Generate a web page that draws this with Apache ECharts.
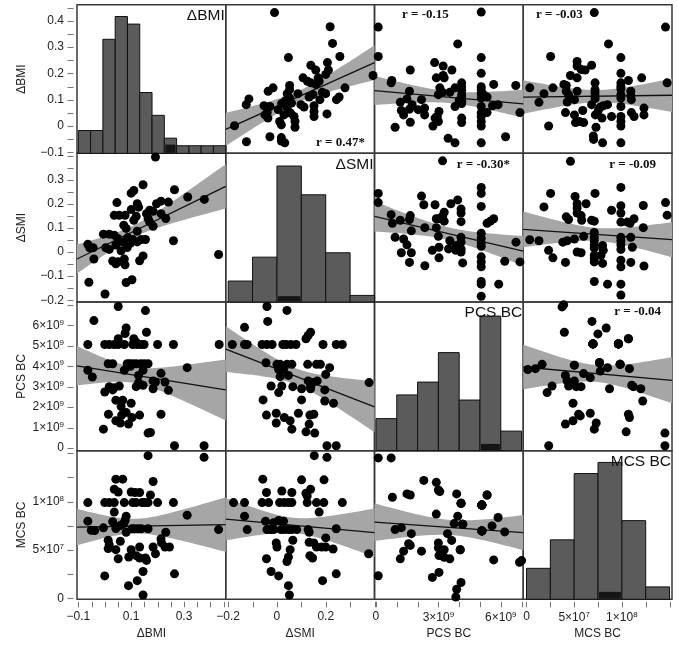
<!DOCTYPE html>
<html><head><meta charset="utf-8">
<script src="https://cdn.jsdelivr.net/npm/echarts@6/dist/echarts.min.js"></script>
<style>html,body{margin:0;padding:0;background:#fff}#c{width:677px;height:647px}</style>
</head><body><div id="c"></div>
<script>
// ---------------- DATA ----------------
const varNames = ['ΔBMI', 'ΔSMI', 'PCS BC', 'MCS BC'];
// units for stored values: PCS in 1e9, MCS in 1e7
const unitScale = [1, 1, 1e9, 1e7];

// [ΔBMI, ΔSMI]
const bmi_smi = [[0.192,0.394],[0.145,0.279],[0.110,0.255],[0.100,0.244],[0.264,0.258],[0.314,0.228],[0.377,0.218],[0.046,0.205],[0.123,0.200],[0.128,0.186],[0.196,0.200],[0.213,0.211],[0.241,0.207],[0.100,0.176],[0.170,0.173],[0.183,0.169],[0.036,0.152],[0.055,0.152],[0.077,0.152],[0.119,0.148],[0.158,0.159],[0.213,0.159],[0.231,0.139],[0.110,0.132],[0.164,0.139],[0.170,0.125],[0.072,0.111],[0.081,0.098],[0.183,0.107],[0.123,0.086],[-0.005,0.074],[0.017,0.074],[0.036,0.070],[0.049,0.056],[0.087,0.060],[0.106,0.052],[0.138,0.052],[0.154,0.052],[0.123,0.042],[0.097,0.036],[0.068,0.042],[0.042,0.029],[0.085,0.019],[0.004,0.018],[0.017,0.011],[0.062,0.005],[-0.064,0.032],[-0.057,0.018],[-0.044,0.018],[-0.041,-0.029],[0.260,0.047],[0.431,-0.010],[0.030,-0.037],[0.042,-0.049],[0.051,-0.040],[0.074,-0.029],[0.077,-0.053],[0.145,-0.016],[0.132,-0.036],[-0.060,-0.125],[0.081,-0.126],[0.103,-0.115],[0.001,-0.174]];
// [ΔBMI, PCS(1e9)]
const bmi_pcs = [[0.051,6.92],[0.154,6.72],[-0.041,6.23],[0.081,5.87],[0.077,5.60],[0.158,5.66],[0.051,5.34],[0.110,5.34],[0.119,5.17],[-0.064,5.06],[0.000,5.06],[0.017,5.06],[0.036,5.06],[0.051,5.06],[0.074,5.06],[0.106,5.06],[0.123,5.06],[0.138,5.06],[0.149,5.06],[0.200,5.06],[0.260,5.06],[0.433,5.06],[0.013,4.12],[0.030,4.12],[0.085,4.12],[0.094,4.12],[0.106,4.12],[0.119,4.12],[0.136,4.12],[0.149,4.12],[0.164,4.12],[0.097,4.00],[0.312,3.93],[-0.064,3.80],[0.074,3.80],[0.145,3.80],[-0.047,3.47],[0.128,3.55],[0.213,3.65],[0.128,3.20],[0.183,3.28],[0.192,3.23],[0.228,3.23],[0.017,3.00],[0.036,2.95],[0.055,3.03],[0.119,3.00],[0.145,3.07],[0.183,2.90],[0.000,2.74],[0.030,2.84],[0.241,2.82],[0.042,2.34],[0.068,2.34],[0.100,2.19],[0.062,2.03],[0.014,1.65],[0.064,1.61],[0.081,1.74],[0.103,1.49],[0.132,1.61],[0.213,1.65],[0.042,1.33],[0.059,1.22],[0.090,1.17],[-0.005,0.92],[0.164,0.73],[0.173,0.76],[0.264,0.11],[0.376,0.11]];
// [ΔBMI, MCS(1e7)]
const bmi_mcs = [[0.164,14.75],[0.376,14.58],[0.042,12.32],[0.068,12.32],[0.183,12.08],[0.036,11.28],[0.051,11.0],[0.100,11.0],[0.115,10.94],[0.132,10.94],[0.173,10.69],[-0.064,9.9],[0.000,9.9],[0.017,9.9],[0.036,9.9],[0.074,9.9],[0.106,9.9],[0.119,9.9],[0.141,9.9],[0.151,9.9],[0.164,9.9],[0.200,9.9],[0.260,9.9],[0.036,8.92],[0.312,8.6],[0.081,8.5],[0.077,8.05],[-0.064,7.98],[0.030,7.92],[0.072,7.74],[0.059,7.53],[-0.005,7.29],[0.042,7.22],[0.103,7.19],[0.113,7.19],[0.126,7.19],[0.138,7.19],[0.164,7.19],[-0.051,7.04],[-0.038,7.01],[0.431,7.11],[0.081,6.83],[0.231,6.83],[0.059,5.9],[0.013,6.0],[0.017,5.55],[0.013,5.14],[0.213,6.15],[0.215,5.73],[0.228,5.31],[0.245,5.31],[0.183,5.31],[0.042,5.03],[0.100,5.03],[0.132,5.31],[0.192,4.61],[0.051,4.09],[0.091,4.27],[0.119,4.41],[0.132,4.17],[0.154,4.17],[0.158,3.92],[0.145,2.77],[0.000,2.32],[0.264,2.53],[0.123,1.83],[0.090,1.31],[0.145,0.34]];
// [ΔSMI, PCS(1e9)]
const smi_pcs = [[-0.041,6.92],[0.041,6.73],[-0.038,6.19],[-0.133,5.90],[0.138,5.66],[0.128,5.50],[0.119,5.34],[-0.183,5.06],[-0.133,5.06],[-0.122,5.06],[-0.061,5.06],[-0.041,5.06],[-0.020,5.06],[0.024,5.06],[0.038,5.06],[0.057,5.06],[0.078,5.06],[0.189,5.06],[0.243,5.06],[0.268,5.06],[-0.045,4.17],[0.000,4.09],[0.013,4.09],[0.041,4.09],[0.061,4.09],[0.126,4.09],[0.162,4.09],[0.178,4.09],[0.216,3.93],[0.007,3.84],[0.027,3.84],[0.200,3.60],[0.013,3.49],[0.047,3.55],[0.378,3.20],[0.128,3.28],[0.148,3.20],[0.165,3.28],[0.138,3.00],[-0.024,3.03],[0.020,3.03],[0.065,3.00],[0.101,2.90],[0.138,2.90],[0.196,2.84],[0.007,2.71],[0.101,2.35],[-0.057,2.35],[0.196,2.30],[0.232,2.19],[-0.003,1.70],[-0.043,1.61],[0.030,1.49],[0.088,1.70],[0.135,1.61],[0.151,1.65],[0.054,1.33],[-0.003,1.22],[0.132,1.17],[0.061,0.92],[0.119,0.79],[0.155,0.73],[0.205,0.11],[0.243,0.11]];
// [ΔSMI, MCS(1e7)]
const smi_mcs = [[0.153,14.75],[0.205,14.58],[-0.058,12.32],[0.101,12.25],[0.193,12.25],[0.138,11.28],[-0.043,10.94],[0.020,11.1],[0.061,10.94],[0.119,10.86],[0.124,10.58],[-0.178,9.9],[-0.133,9.9],[-0.061,9.9],[-0.034,9.9],[0.011,9.9],[0.030,9.9],[0.047,9.9],[0.061,9.9],[0.124,9.9],[0.162,9.9],[0.192,9.9],[0.268,9.9],[-0.133,8.5],[0.173,8.92],[-0.014,7.81],[0.007,8.05],[0.027,7.98],[-0.047,7.98],[-0.122,7.11],[-0.041,7.11],[-0.027,7.11],[-0.014,7.11],[0.016,7.11],[0.030,7.11],[0.047,7.11],[0.061,7.11],[0.081,7.11],[0.128,7.11],[0.243,7.19],[0.132,6.83],[0.200,6.25],[0.065,6.0],[-0.003,5.73],[0.132,5.79],[0.151,5.73],[0.000,5.31],[0.162,5.31],[0.183,5.31],[0.200,5.31],[0.230,5.10],[0.054,5.03],[0.376,4.61],[0.135,4.41],[0.146,4.17],[0.047,4.27],[0.041,3.81],[-0.043,4.09],[-0.024,2.77],[0.007,2.32],[0.243,2.53],[0.187,1.83],[0.047,1.31],[0.051,0.34]];
// [PCS(1e9), MCS(1e7)] — repeated entries are subjects whose dots overlap exactly
const pcs_mcs = [[6.9,3.73],[7.0,3.90],[6.19,6.87],[5.87,8.36],[5.66,3.97],[5.58,7.49],[5.34,10.69],[5.34,10.69],
  [5.09,6.97],[5.09,6.97],[5.09,6.97],[5.09,6.97],[5.09,6.97],[5.09,6.97],
  [5.09,9.64],[5.09,9.64],[5.09,9.64],[5.09,9.64],[5.09,9.64],[5.09,9.64],[5.09,9.64],
  [3.84,0.14],[3.88,0.94],[4.09,1.64],[4.05,5.02],[4.05,5.02],[4.17,7.66],[4.17,7.66],[4.17,7.66],[3.93,8.50],[3.76,7.73],
  [4.09,9.82],[4.09,9.82],[4.09,9.82],[3.88,10.8],[3.55,4.08],[3.28,5.02],[3.64,5.99],[3.44,6.69],[3.28,4.25],[3.03,4.42],[3.0,5.22],[3.0,5.72],[3.03,2.68],[2.71,2.16],[2.9,8.71],[3.07,11.04],[3.0,11.2],[2.9,11.99],[2.30,12.19],[2.19,4.88],[1.17,4.08],[1.33,4.88],[1.65,5.47],[1.57,5.64],[1.70,6.69],[1.22,7.31],[0.92,7.11],[1.65,10.69],[1.49,10.8],[0.79,10.45],[0.11,2.33],[0.73,14.52],[0.11,14.52]];

// histograms (bin edges in stored units, bar heights)
const bmiEdges = [-0.1,-0.0535,-0.007,0.0395,0.086,0.1325,0.179,0.2255,0.272,0.3185,0.365,0.4115,0.458];
const bmiCounts = [3,3,15,18,17,8,5,2,1,1,1,1];
const smiEdges = [-0.2,-0.1,0,0.1,0.2,0.3,0.4];
const smiCounts = [4.3,9.2,27.9,22,10.1,1.35];
const pcsEdges = [0,1,2,3,4,5,6,7];
const pcsCounts = [5.0,8.7,10.7,15.3,7.9,21.0,3.05];
const mcsEdges = [0,2.5,5,7.5,10,12.5,15];
const mcsCounts = [5,9.6,20.3,22.1,12.7,2];
const histMax = [19.55, 30.5, 23.2, 24];
const darkBin = [7, 2, 5, 3];
const darkHeight = [1.15, 1.2, 1.05, 1.2];

// correlation labels for upper panels
const rLabels = {'0-1':'r = 0.47*','0-2':'r = -0.15','0-3':'r = -0.03','1-2':'r = -0.30*','1-3':'r = -0.09','2-3':'r = -0.04'};

// axis ranges (stored units) and ticks
const xRange = [[-0.105,0.458],[-0.21,0.40],[-0.07,7.08],[-0.34,15.26]];
const yRange = [[-0.104,0.461],[-0.207,0.409],[-0.13,7.14],[-0.1,15.27]];
const xTicks = [[-0.1,-0.05,0,0.05,0.1,0.15,0.2,0.25,0.3,0.35,0.4,0.45],[-0.2,-0.1,0,0.1,0.2,0.3,0.4],[0,1,2,3,4,5,6,7],[0,2.5,5,7.5,10,12.5,15]];
const yTicks = [[-0.1,-0.05,0,0.05,0.1,0.15,0.2,0.25,0.3,0.35,0.4,0.45],[-0.2,-0.15,-0.1,-0.05,0,0.05,0.1,0.15,0.2,0.25,0.3,0.35,0.4],[0,1,2,3,4,5,6,7],[0,2.5,5,7.5,10,12.5,15]];
const xLabels = [[-0.1,0.1,0.3],[-0.2,0,0.2],[0,3,6],[0,5,10]];
const yLabels = [[-0.1,0,0.1,0.2,0.3,0.4],[-0.2,-0.1,0,0.1,0.2,0.3],[0,1,2,3,4,5,6],[0,5,10]];

// ---------------- BUILD ----------------
const GX0 = 77, GW = 148.75, GY0 = 4.7, GH = 148.65;
const pairs = {'0-1':bmi_smi,'0-2':bmi_pcs,'0-3':bmi_mcs,'1-2':smi_pcs,'1-3':smi_mcs,'2-3':pcs_mcs};
const hists = [[bmiEdges,bmiCounts],[smiEdges,smiCounts],[pcsEdges,pcsCounts],[mcsEdges,mcsCounts]];
const sc = v => unitScale[v];
const sc0 = (arr, v) => arr.map(a => a * unitScale[v]);

function fmt(v, varIdx) {
  if (varIdx <= 1) {
    const r = Math.round(v * 100) / 100;
    return r < 0 ? '\u2212' + Math.abs(r) : String(r);
  }
  if (Math.abs(v) < 1e-6) return '0';
  if (varIdx === 2) return '{m|' + Math.round(v / 1e9) + '×10}{s|9}';
  if (Math.abs(v - 1e8) < 1) return '{m|1×10}{s|8}';
  return '{m|' + Math.round(v / 1e7) + '×10}{s|7}';
}
const rich = { m: { fontSize: 12, color: '#222', lineHeight: 14, fontFamily: 'Liberation Sans' }, s: { fontSize: 8, color: '#222', lineHeight: 8, verticalAlign: 'top', fontFamily: 'Liberation Sans' } };

function fit(pts) {
  const n = pts.length; let mx = 0, my = 0;
  pts.forEach(p => { mx += p[0]; my += p[1]; }); mx /= n; my /= n;
  let sxx = 0, sxy = 0;
  pts.forEach(p => { sxx += (p[0] - mx) ** 2; sxy += (p[0] - mx) * (p[1] - my); });
  const b = sxy / sxx, a = my - b * mx;
  let sse = 0; pts.forEach(p => { sse += (p[1] - a - b * p[0]) ** 2; });
  return { a, b, mx, sxx, n, s: Math.sqrt(sse / (n - 2)) };
}

const grids = [], xAxes = [], yAxes = [], series = [], graphics = [];
const TICK = '#777';
for (let r = 0; r < 4; r++) {
  for (let c = 0; c < 4; c++) {
    const k = r * 4 + c;
    grids.push({ left: GX0 + c * GW, top: GY0 + r * GH, width: GW, height: GH, show: true, borderColor: '#3a3a3a', borderWidth: 1.5, backgroundColor: 'rgba(0,0,0,0)' });
    xAxes.push({
      type: 'value', gridIndex: k, min: xRange[c][0] * sc(c), max: xRange[c][1] * sc(c),
      show: r === 3, position: 'bottom', offset: 2,
      axisLine: { show: false }, splitLine: { show: false }, axisTick: { show: false },
      axisLabel: { show: true, margin: 9, customValues: sc0(xLabels[c], c), formatter: v => fmt(v, c), fontSize: 12, color: '#222', fontFamily: 'Liberation Sans', rich: rich, hideOverlap: false },
      name: r === 3 ? varNames[c] : '', nameLocation: 'middle', nameGap: 26,
      nameTextStyle: { fontSize: 12, color: '#222', fontFamily: 'Liberation Sans' }
    });
    yAxes.push({
      type: 'value', gridIndex: k, min: yRange[r][0] * sc(r), max: yRange[r][1] * sc(r),
      show: c === 0, position: 'left', offset: 3,
      axisLine: { show: false }, splitLine: { show: false }, axisTick: { show: false },
      axisLabel: { show: true, margin: 10, customValues: sc0(yLabels[r], r), formatter: v => fmt(v, r), fontSize: 12, color: '#222', fontFamily: 'Liberation Sans', rich: rich },
      name: c === 0 ? varNames[r] : '', nameLocation: 'middle', nameGap: 46, nameRotate: 90,
      nameTextStyle: { fontSize: 12, color: '#222', fontFamily: 'Liberation Sans' }
    });
    if (c === 0) {
      const xm = xRange[0][0] * sc(0);
      series.push({
        type: 'custom', xAxisIndex: k, yAxisIndex: k, clip: false, silent: true, z: 5,
        data: sc0(yTicks[r], r).map(v => [xm, v]),
        renderItem: (params, api) => {
          const p = api.coord([api.value(0), api.value(1)]);
          const y = Math.round(p[1]) + 0.5;
          return { type: 'line', shape: { x1: p[0] - 3.5, y1: y, x2: p[0] - 9.5, y2: y }, style: { stroke: TICK, lineWidth: 1 } };
        }
      });
    }
    if (r === 3) {
      const ym = yRange[3][0] * sc(3);
      series.push({
        type: 'custom', xAxisIndex: k, yAxisIndex: k, clip: false, silent: true, z: 5,
        data: sc0(xTicks[c], c).map(v => [v, ym]),
        renderItem: (params, api) => {
          const p = api.coord([api.value(0), api.value(1)]);
          const x = Math.round(p[0]) + 0.5;
          return { type: 'line', shape: { x1: x, y1: p[1] + 2.5, x2: x, y2: p[1] + 8 }, style: { stroke: TICK, lineWidth: 1 } };
        }
      });
    }
  }
}
for (let d = 0; d < 4; d++) {
  yAxes.push({ type: 'value', gridIndex: d * 5, min: 0, max: histMax[d], show: false, splitLine: { show: false } });
}

for (let r = 0; r < 4; r++) {
  for (let c = 0; c < 4; c++) {
    const k = r * 4 + c;
    if (r === c) {
      const [edges, counts] = hists[r];
      const bars = counts.map((h, i) => [edges[i] * sc(r), edges[i + 1] * sc(r), h, 0]);
      const db = darkBin[r];
      bars.push([edges[db] * sc(r), edges[db + 1] * sc(r), darkHeight[r], 1]);
      series.push({
        type: 'custom', xAxisIndex: k, yAxisIndex: 16 + r, data: bars, silent: true, z: 2,
        renderItem: (params, api) => {
          const x0 = api.value(0), x1 = api.value(1), h = api.value(2), dark = api.value(3);
          const p0 = api.coord([x0, h]), p1 = api.coord([x1, 0]);
          if (dark) {
            return { type: 'rect', shape: { x: p0[0] + 1, y: p0[1], width: p1[0] - p0[0] - 2, height: p1[1] - p0[1] - 0.5 }, style: { fill: '#151515' }, z2: 5 };
          }
          return { type: 'rect', shape: { x: p0[0], y: p0[1], width: p1[0] - p0[0], height: p1[1] - p0[1] }, style: { fill: '#5b5b5b', stroke: '#111', lineWidth: 1 } };
        }
      });
      graphics.push({ type: 'text', x: GX0 + (c + 1) * GW - 1, y: GY0 + r * GH + 11, style: { text: varNames[r], font: '15.5px "Liberation Sans"', fill: '#111', align: 'right', verticalAlign: 'middle' }, z: 100 });
      continue;
    }
    const lo = Math.min(r, c), hi = Math.max(r, c);
    const raw = pairs[lo + '-' + hi];
    const pts = raw.map(p => c < r ? [p[0] * sc(c), p[1] * sc(r)] : [p[1] * sc(c), p[0] * sc(r)]);
    const f = fit(pts);
    const xmin = xRange[c][0] * sc(c), xmax = xRange[c][1] * sc(c);
    const band = [];
    const t = 1.99;
    for (let i = 0; i <= 40; i++) {
      const x = xmin + (xmax - xmin) * i / 40;
      const yh = f.a + f.b * x;
      const se = f.s * Math.sqrt(1 / f.n + (x - f.mx) ** 2 / f.sxx);
      band.push([x, yh - t * se, yh + t * se]);
    }
    series.push({
      type: 'custom', xAxisIndex: k, yAxisIndex: k, data: band, clip: true, silent: true, z: 1,
      renderItem: (params, api) => {
        if (params.dataIndex !== 0) return null;
        const poly = [];
        band.forEach(b => poly.push(api.coord([b[0], b[2]])));
        for (let i = band.length - 1; i >= 0; i--) poly.push(api.coord([band[i][0], band[i][1]]));
        return { type: 'polygon', shape: { points: poly }, style: { fill: '#a6a6a6' } };
      }
    });
    series.push({
      type: 'line', xAxisIndex: k, yAxisIndex: k, data: [[xmin, f.a + f.b * xmin], [xmax, f.a + f.b * xmax]],
      symbol: 'none', lineStyle: { color: '#111', width: 1.3 }, silent: true, z: 2, clip: true
    });
    series.push({
      type: 'scatter', xAxisIndex: k, yAxisIndex: k, data: pts, symbolSize: 9,
      itemStyle: { color: '#000', opacity: 1 }, silent: true, z: 3
    });
  }
}

const rPos = {'0-1':[365,143,'right'],'0-2':[402,15,'left'],'0-3':[536,15,'left'],'1-2':[510,165,'right'],'1-3':[656,165,'right'],'2-3':[661,312,'right']};
Object.keys(rLabels).forEach(key => {
  const p = rPos[key];
  graphics.push({ type: 'text', x: p[0], y: p[1], style: { text: rLabels[key], font: 'bold 13px "Liberation Serif"', fill: '#111', align: p[2], verticalAlign: 'middle' }, z: 100 });
});

const chart = echarts.init(document.getElementById('c'), null, { renderer: 'canvas' });
chart.setOption({
  animation: false, backgroundColor: '#fff',
  grid: grids, xAxis: xAxes, yAxis: yAxes, series: series, graphic: graphics
});
</script></body></html>
